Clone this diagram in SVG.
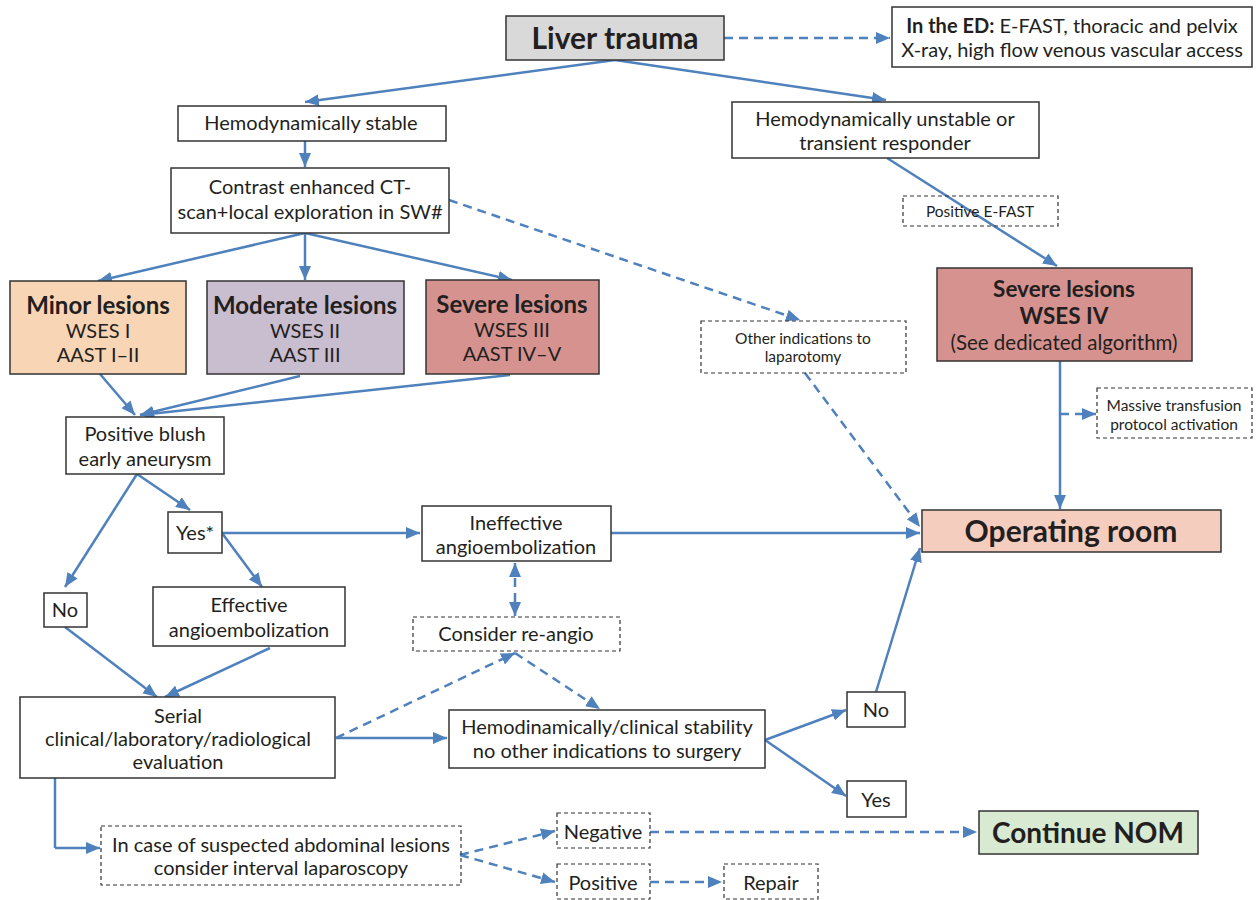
<svg xmlns="http://www.w3.org/2000/svg" width="1258" height="900" viewBox="0 0 1258 900">
<style>
text{font-family:Lato,"Source Sans Pro","Noto Sans",sans-serif;fill:#231f20;text-anchor:middle}
.t{font-size:20px}
.s{font-size:15.5px}
.b{font-weight:bold}
.big{font-size:30px;font-weight:bold}
.mid{font-size:24px;font-weight:bold}
.box{fill:#fff;stroke:#333;stroke-width:1.5}
.dbox{fill:none;stroke:#333;stroke-width:1.2;stroke-dasharray:4 3}
.c{fill:none;stroke:#4f81bd;stroke-width:2.5;marker-end:url(#ah)}
.d{fill:none;stroke:#4f81bd;stroke-width:2.5;stroke-dasharray:9 6;marker-end:url(#ah)}
.n{fill:none;stroke:#4f81bd;stroke-width:2.5}
</style>
<defs>
<marker id="ah" markerUnits="userSpaceOnUse" markerWidth="14" markerHeight="12" refX="14" refY="6" orient="auto-start-reverse">
<path d="M0,0 L14,6 L0,12 z" fill="#4f81bd"/>
</marker>
</defs>
<rect width="1258" height="900" fill="#fff"/>

<g id="connectors">
<path class="d" d="M724,38 L890,38"/>
<path class="c" d="M615,60 L305,102"/>
<path class="c" d="M615,60 L886,100"/>
<path class="c" d="M305,141 L305,167"/>
<path class="c" d="M305,233 L98,281"/>
<path class="c" d="M305,233 L305,280"/>
<path class="c" d="M305,233 L512,280"/>
<path class="d" d="M449,200 L800,320"/>
<path class="c" d="M887,158 L1057,266"/>
<path class="n" d="M1060,361 L1060,414"/>
<path class="c" d="M1060,414 L1060,509"/>
<path class="d" d="M1060,414 L1096,414"/>
<path class="d" d="M805,373 L920,527"/>
<path class="c" d="M100,374 L135,415"/>
<path class="c" d="M300,376 L140,415"/>
<path class="c" d="M510,375 L140,415"/>
<path class="c" d="M137,474 L65,587"/>
<path class="c" d="M137,474 L190,510"/>
<path class="c" d="M222,533 L262,587"/>
<path class="c" d="M222,533 L420,533"/>
<path class="c" d="M611,533 L920,533"/>
<path class="d" d="M515,563 L515,616" style="marker-start:url(#ah)"/>
<path class="c" d="M65,627 L157,697"/>
<path class="c" d="M270,648 L165,697"/>
<path class="c" d="M336,738 L447,738"/>
<path class="d" d="M336,738 L515,653"/>
<path class="d" d="M515,653 L600,709"/>
<path class="c" d="M765,740 L846,710"/>
<path class="c" d="M765,740 L846,796"/>
<path class="c" d="M876,692 L920,548"/>
<path class="n" d="M55,778 L55,848"/>
<path class="c" d="M55,848 L100,848"/>
<path class="d" d="M460,855 L555,831"/>
<path class="d" d="M460,855 L555,882"/>
<path class="d" d="M650,882 L722,882"/>
<path class="d" d="M650,832 L977,832"/>
</g>

<g id="liver-trauma">
<rect x="506" y="16" width="218" height="44" fill="#d9d9d9" stroke="#333" stroke-width="1.5"/>
<text x="615" y="49" class="big">Liver trauma</text>
</g>
<g id="ed">
<rect class="box" x="892" y="7" width="360" height="60"/>
<text x="1072" y="33" class="t"><tspan class="b">In the ED:</tspan> E-FAST, thoracic and pelvix</text>
<text x="1072" y="57" class="t">X-ray, high flow venous vascular access</text>
</g>
<g id="hemo-stable">
<rect class="box" x="178" y="106" width="268" height="35"/>
<text x="311" y="130" class="t">Hemodynamically stable</text>
</g>
<g id="ct">
<rect class="box" x="171" y="168" width="278" height="65"/>
<text x="310" y="194" class="t">Contrast enhanced CT-</text>
<text x="310" y="219" class="t">scan+local exploration in SW#</text>
</g>
<g id="minor">
<rect x="10" y="281" width="176" height="93" fill="#f8d5b4" stroke="#333" stroke-width="1.5"/>
<text x="98" y="314" class="mid">Minor lesions</text>
<text x="98" y="338" class="t">WSES I</text>
<text x="98" y="362" class="t">AAST I–II</text>
</g>
<g id="moderate">
<rect x="207" y="281" width="197" height="93" fill="#c9bdd0" stroke="#333" stroke-width="1.5"/>
<text x="305" y="314" class="mid">Moderate lesions</text>
<text x="305" y="338" class="t">WSES II</text>
<text x="305" y="362" class="t">AAST III</text>
</g>
<g id="severe">
<rect x="426" y="280" width="173" height="94" fill="#d6928e" stroke="#333" stroke-width="1.5"/>
<text x="512" y="313" class="mid">Severe lesions</text>
<text x="512" y="337" class="t">WSES III</text>
<text x="512" y="361" class="t">AAST IV–V</text>
</g>
<g id="hemo-unstable">
<rect class="box" x="732" y="102" width="307" height="56"/>
<text x="885" y="126" class="t">Hemodynamically unstable or</text>
<text x="885" y="150" class="t">transient responder</text>
</g>
<g id="positive-efast">
<rect class="dbox" x="903" y="196" width="155" height="30"/>
<text x="980" y="217" class="s">Positive E-FAST</text>
</g>
<g id="severe-iv">
<rect x="937" y="268" width="255" height="93" fill="#d6928e" stroke="#333" stroke-width="1.5"/>
<text x="1064" y="297" class="mid" style="font-size:22.5px">Severe lesions</text>
<text x="1064" y="324" class="mid" style="font-size:22.5px">WSES IV</text>
<text x="1064" y="350" style="font-size:20.5px">(See dedicated algorithm)</text>
</g>
<g id="other-indications">
<rect class="dbox" x="701" y="321" width="205" height="52"/>
<text x="803" y="344" class="s">Other indications to</text>
<text x="803" y="362" class="s">laparotomy</text>
</g>
<g id="massive-transfusion">
<rect class="dbox" x="1097" y="388" width="155" height="50"/>
<text x="1174" y="411" class="s">Massive transfusion</text>
<text x="1174" y="430" class="s">protocol activation</text>
</g>
<g id="operating-room">
<rect x="922" y="510" width="299" height="42" fill="#f4cdbf" stroke="#333" stroke-width="1.5"/>
<text x="1071" y="542" class="big">Operating room</text>
</g>
<g id="positive-blush">
<rect class="box" x="66" y="417" width="158" height="57"/>
<text x="145" y="441" class="t">Positive blush</text>
<text x="145" y="466" class="t">early aneurysm</text>
</g>
<g id="yes-star">
<rect class="box" x="168" y="512" width="54" height="41"/>
<text x="195" y="540" class="t">Yes*</text>
</g>
<g id="no-left">
<rect class="box" x="44" y="593" width="43" height="34"/>
<text x="65" y="617" class="t">No</text>
</g>
<g id="effective">
<rect class="box" x="153" y="587" width="192" height="59"/>
<text x="249" y="612" class="t">Effective</text>
<text x="249" y="637" class="t">angioembolization</text>
</g>
<g id="ineffective">
<rect class="box" x="422" y="506" width="189" height="55"/>
<text x="516" y="530" class="t">Ineffective</text>
<text x="516" y="554" class="t">angioembolization</text>
</g>
<g id="re-angio">
<rect class="dbox" x="413" y="617" width="207" height="34"/>
<text x="516" y="641" class="t">Consider re-angio</text>
</g>
<g id="serial">
<rect class="box" x="20" y="697" width="315" height="81"/>
<text x="178" y="723" class="t">Serial</text>
<text x="178" y="746" class="t">clinical/laboratory/radiological</text>
<text x="178" y="769" class="t">evaluation</text>
</g>
<g id="stability">
<rect class="box" x="449" y="710" width="316" height="58"/>
<text x="607" y="734" class="t">Hemodinamically/clinical stability</text>
<text x="607" y="758" class="t">no other indications to surgery</text>
</g>
<g id="no-right">
<rect class="box" x="847" y="692" width="58" height="35"/>
<text x="876" y="717" class="t">No</text>
</g>
<g id="yes-right">
<rect class="box" x="847" y="781" width="59" height="36"/>
<text x="876" y="807" class="t">Yes</text>
</g>
<g id="laparoscopy">
<rect class="dbox" x="101" y="826" width="360" height="59"/>
<text x="281" y="852" class="t">In case of suspected abdominal lesions</text>
<text x="281" y="875" class="t">consider interval laparoscopy</text>
</g>
<g id="negative">
<rect class="dbox" x="557" y="813" width="93" height="35"/>
<text x="603" y="839" class="t">Negative</text>
</g>
<g id="positive">
<rect class="dbox" x="557" y="864" width="93" height="35"/>
<text x="603" y="890" class="t">Positive</text>
</g>
<g id="repair">
<rect class="dbox" x="724" y="864" width="94" height="35"/>
<text x="771" y="890" class="t">Repair</text>
</g>
<g id="continue-nom">
<rect x="979" y="811" width="219" height="43" fill="#d9ead3" stroke="#333" stroke-width="1.5"/>
<text x="1088" y="843" class="big" style="font-size:28px">Continue NOM</text>
</g>
</svg>
